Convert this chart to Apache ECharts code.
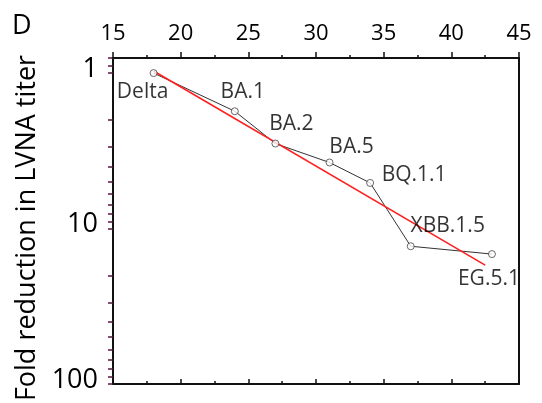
<!DOCTYPE html>
<html>
<head>
<meta charset="utf-8">
<script src="https://cdn.jsdelivr.net/npm/echarts@6/dist/echarts.min.js"></script>
<style>html,body{margin:0;padding:0;background:#fff}#c{width:542px;height:403px}</style>
</head>
<body>
<div id="c"></div>
<script>
// ---- data ----
var variants = ['Delta', 'BA.1', 'BA.2', 'BA.5', 'BQ.1.1', 'XBB.1.5', 'EG.5.1'];
var xValues = [18, 24, 27, 31, 34, 37, 43];
var foldReduction = [1.0, 1.76, 2.84, 3.76, 5.09, 13.0, 14.6];
var fitX = [18, 42.5];
var fitY = [0.97, 17.2];
var xTicks = [15, 20, 25, 30, 35, 40, 45];
var yLabelValues = [1, 10, 100];
var yTickValues = [0.8, 0.9, 1, 2, 3, 4, 5, 6, 7, 8, 9, 10, 20, 30, 40, 50, 60, 70, 80, 90, 100];

// ---- style (label offsets in px) ----
var labelOffsets = [[-11, 19], [8, -19], [16, -20], [22, -15], [44, -8], [37, -20], [-3, 25]];
var FONT = 'Open Sans';

var pts = xValues.map(function (x, i) { return [x, foldReduction[i]]; });
var fitPts = fitX.map(function (x, i) { return [x, fitY[i]]; });
var labelled = pts.map(function (p, i) {
  return {
    value: p,
    label: { show: true, formatter: variants[i], position: 'inside', offset: labelOffsets[i] }
  };
});

var chart = echarts.init(document.getElementById('c'));
chart.setOption({
  animation: false,
  backgroundColor: '#fff',
  title: { text: 'D', left: 7, top: 8, textStyle: { fontFamily: FONT, fontSize: 27, fontWeight: 'normal', color: '#000' } },
  grid: { left: 113, right: 23, top: 58, bottom: 19, containLabel: false, outerBoundsMode: 'none' },
  xAxis: [{
    type: 'value', position: 'top', min: xTicks[0], max: xTicks[xTicks.length - 1], interval: 5,
    axisLine: { show: true, onZero: false, lineStyle: { color: '#111', width: 2 } },
    axisTick: { show: true, length: 6, lineStyle: { color: '#111', width: 1.5 } },
    minorTick: { show: true, splitNumber: 2, length: 3, lineStyle: { color: '#111', width: 1.5 } },
    axisLabel: { margin: 13, fontFamily: FONT, fontSize: 22, color: '#000' },
    splitLine: { show: false }
  }, {
    type: 'value', position: 'bottom', min: xTicks[0], max: xTicks[xTicks.length - 1], interval: 5,
    axisLine: { show: true, onZero: false, lineStyle: { color: '#111', width: 2 } },
    axisTick: { show: true, inside: true, length: 5, lineStyle: { color: '#111', width: 1.5 } },
    minorTick: { show: true, splitNumber: 2, length: 3, lineStyle: { color: '#111', width: 1.5 } },
    axisLabel: { show: false },
    splitLine: { show: false }
  }],
  yAxis: [{
    type: 'log', logBase: 10, inverse: true, min: 0.8, max: 100, position: 'left',
    name: 'Fold reduction in LVNA titer', nameLocation: 'middle', nameGap: 47, nameRotate: 90,
    nameTextStyle: { fontFamily: FONT, fontSize: 27, color: '#000', padding: [0, 14, 0, 0] },
    axisLine: { show: true, onZero: false, lineStyle: { color: '#111', width: 2 } },
    axisTick: { show: true, length: 5, customValues: yTickValues, lineStyle: { color: '#5a1240', width: 1.5 } },
    axisLabel: { margin: 15, fontFamily: FONT, fontSize: 27, color: '#000', customValues: yLabelValues, verticalAlign: 'bottom', lineHeight: 8 },
    splitLine: { show: false }
  }, {
    type: 'log', logBase: 10, inverse: true, min: 0.8, max: 100, position: 'right',
    axisLine: { show: true, onZero: false, lineStyle: { color: '#111', width: 2 } },
    axisTick: { show: false }, axisLabel: { show: false }, splitLine: { show: false }
  }],
  series: [{
    type: 'line', data: pts, xAxisIndex: 0, yAxisIndex: 0, symbol: 'none',
    lineStyle: { color: '#333', width: 1 }, z: 2
  }, {
    type: 'line', data: fitPts, xAxisIndex: 0, yAxisIndex: 0, symbol: 'none',
    lineStyle: { color: '#ff1f1f', width: 1.6 }, z: 3
  }, {
    type: 'scatter', data: labelled, xAxisIndex: 0, yAxisIndex: 0, symbol: 'circle', symbolSize: 7,
    itemStyle: { color: '#fff', borderColor: '#444', borderWidth: 1 },
    label: { fontFamily: FONT, fontSize: 21, color: '#000', align: 'center', verticalAlign: 'middle' },
    emphasis: { disabled: true }, z: 4
  }]
});
</script>
</body>
</html>
